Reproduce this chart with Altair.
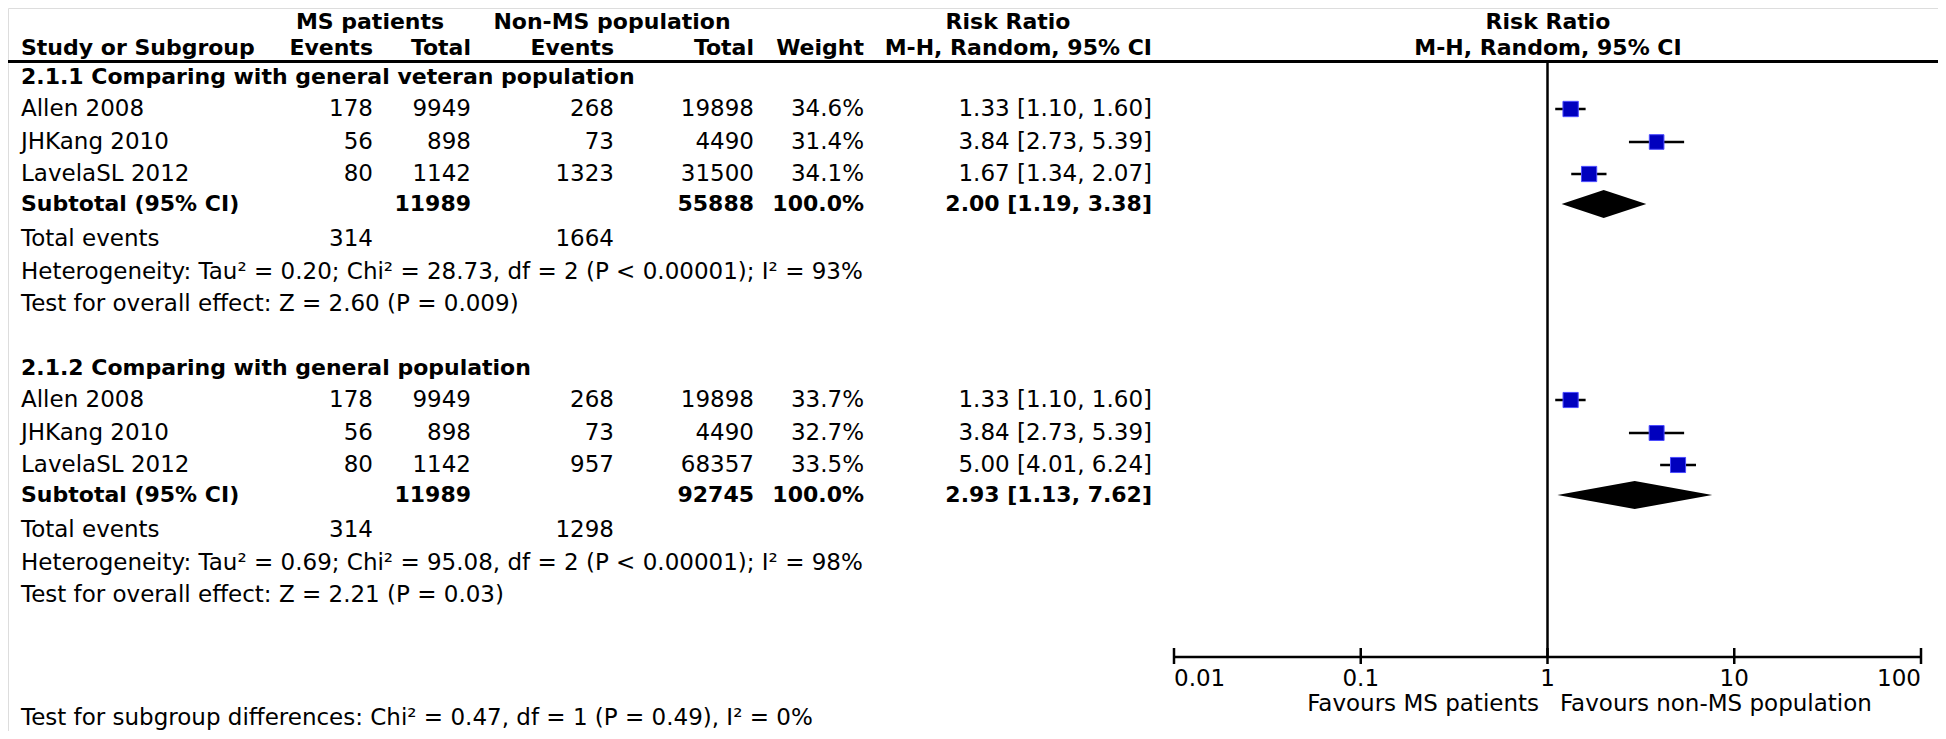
import altair as alt
import pandas as pd

# ---------------- data ----------------
studies = ["Allen 2008", "JHKang 2010", "LavelaSL 2012"]
ms_events = [178, 56, 80]
ms_total = [9949, 898, 1142]

g1_name = "2.1.1 Comparing with general veteran population"
g1_non_events = [268, 73, 1323]
g1_non_total = [19898, 4490, 31500]
g1_weight = [34.6, 31.4, 34.1]
g1_rr = [1.33, 3.84, 1.67]
g1_lo = [1.10, 2.73, 1.34]
g1_hi = [1.60, 5.39, 2.07]
g1_sub = [11989, 55888, 100.0, 2.00, 1.19, 3.38]   # ms total, non total, weight, rr, lo, hi
g1_total_events = [314, 1664]
g1_het = "Heterogeneity: Tau² = 0.20; Chi² = 28.73, df = 2 (P < 0.00001); I² = 93%"
g1_test = "Test for overall effect: Z = 2.60 (P = 0.009)"

g2_name = "2.1.2 Comparing with general population"
g2_non_events = [268, 73, 957]
g2_non_total = [19898, 4490, 68357]
g2_weight = [33.7, 32.7, 33.5]
g2_rr = [1.33, 3.84, 5.00]
g2_lo = [1.10, 2.73, 4.01]
g2_hi = [1.60, 5.39, 6.24]
g2_sub = [11989, 92745, 100.0, 2.93, 1.13, 7.62]
g2_total_events = [314, 1298]
g2_het = "Heterogeneity: Tau² = 0.69; Chi² = 95.08, df = 2 (P < 0.00001); I² = 98%"
g2_test = "Test for overall effect: Z = 2.21 (P = 0.03)"

subgroup_test = "Test for subgroup differences: Chi² = 0.47, df = 1 (P = 0.49), I² = 0%"
axis_ticks = [0.01, 0.1, 1, 10, 100]
favours_left = "Favours MS patients"
favours_right = "Favours non-MS population"

header_top = [("MS patients", "ms"), ("Non-MS population", "non"), ("Risk Ratio", "rrtab"), ("Risk Ratio", "plot")]
header_cols = ["Study or Subgroup", "Events", "Total", "Events", "Total", "Weight", "M-H, Random, 95% CI"]
plot_header2 = "M-H, Random, 95% CI"

# ---------------- layout ----------------
W, H = 1930, 723
FONT = "DejaVu Sans"
FS = 23          # regular text
FSB = 22         # bold text
COL_LABEL = 13
COLS = ["ms_ev", "ms_tot", "non_ev", "non_tot", "weight", "rr_txt"]
COL_X = {"ms_ev": 365, "ms_tot": 463, "non_ev": 606, "non_tot": 746, "weight": 856, "rr_txt": 1144}
TOP_X = {"ms": 362, "non": 604, "rrtab": 1000, "plot": 1540}
HDR1_Y, HDR2_Y, HLINE_Y = 14, 40, 53.5
BLOCK_OFFSET = [0, 291]
ROW_TITLE, ROW_STUDY, ROW_SUB, ROW_TOT, ROW_HET, ROW_TEST = 69, [101, 134, 166], 196, 231, 264, 296
SUBGROUP_Y = 710
AXIS_Y = 649
LABEL_Y = 671
FAV_Y = 696
DIAMOND_HALF = 14

yscale = alt.Scale(domain=[0, H], range=[0, H], nice=False, zero=False)
xscale = alt.Scale(type="log", domain=[0.01, 100], range=[1166, 1913], nice=False)

groups = [
    dict(name=g1_name, ne=g1_non_events, nt=g1_non_total, w=g1_weight, rr=g1_rr, lo=g1_lo, hi=g1_hi,
         sub=g1_sub, tot=g1_total_events, het=g1_het, test=g1_test),
    dict(name=g2_name, ne=g2_non_events, nt=g2_non_total, w=g2_weight, rr=g2_rr, lo=g2_lo, hi=g2_hi,
         sub=g2_sub, tot=g2_total_events, het=g2_het, test=g2_test),
]


def rr_text(r, l, h):
    return f"{r:.2f} [{l:.2f}, {h:.2f}]"


rows = []
rows.append(dict(y=HDR2_Y, bold=True, label=header_cols[0], ms_ev=header_cols[1], ms_tot=header_cols[2],
                 non_ev=header_cols[3], non_tot=header_cols[4], weight=header_cols[5], rr_txt=header_cols[6]))
forest = []
diamonds = []
for gi, g in enumerate(groups):
    off = BLOCK_OFFSET[gi]
    rows.append(dict(y=ROW_TITLE + off, bold=True, label=g["name"]))
    for i, s in enumerate(studies):
        yy = ROW_STUDY[i] + off
        rows.append(dict(y=yy, bold=False, label=s, ms_ev=str(ms_events[i]), ms_tot=str(ms_total[i]),
                         non_ev=str(g["ne"][i]), non_tot=str(g["nt"][i]), weight=f"{g['w'][i]:.1f}%",
                         rr_txt=rr_text(g["rr"][i], g["lo"][i], g["hi"][i])))
        forest.append(dict(y=yy, rr=g["rr"][i], lo=g["lo"][i], hi=g["hi"][i], weight=g["w"][i]))
    st = g["sub"]
    ys = ROW_SUB + off
    rows.append(dict(y=ys, bold=True, label="Subtotal (95% CI)", ms_tot=str(st[0]), non_tot=str(st[1]),
                     weight=f"{st[2]:.1f}%", rr_txt=rr_text(st[3], st[4], st[5])))
    diamonds += [
        dict(g=gi, x=st[4], y1=ys, y2=ys),
        dict(g=gi, x=st[3], y1=ys - DIAMOND_HALF, y2=ys + DIAMOND_HALF),
        dict(g=gi, x=st[5], y1=ys, y2=ys),
    ]
    rows.append(dict(y=ROW_TOT + off, bold=False, label="Total events", ms_ev=str(g["tot"][0]), non_ev=str(g["tot"][1])))
    rows.append(dict(y=ROW_HET + off, bold=False, label=g["het"]))
    rows.append(dict(y=ROW_TEST + off, bold=False, label=g["test"]))
rows.append(dict(y=SUBGROUP_Y, bold=False, label=subgroup_test))

table = pd.DataFrame(rows).fillna("")
forest_df = pd.DataFrame(forest)
diamond_df = pd.DataFrame(diamonds)
ticks_df = pd.DataFrame({"t": axis_ticks})
axis_df = pd.DataFrame({"lo": [min(axis_ticks)], "hi": [max(axis_ticks)]})

Y = alt.Y("y:Q", scale=yscale, axis=None)

layers = []

# table text
for col in ["label"] + COLS:
    for b in [False, True]:
        align = "left" if col == "label" else "right"
        xpos = COL_LABEL if col == "label" else COL_X[col]
        layers.append(
            alt.Chart(table).transform_filter(alt.datum.bold == b)
            .mark_text(align=align, baseline="middle", font=FONT, fontSize=FSB if b else FS,
                       fontWeight="bold" if b else "normal", color="black")
            .encode(x=alt.value(xpos), y=Y, text=alt.Text(f"{col}:N"))
        )

# top header row (bold, centred)
top_df = pd.DataFrame({"text": [h[0] for h in header_top], "key": [h[1] for h in header_top]})
for txt, key in header_top:
    layers.append(
        alt.Chart(top_df).transform_filter(alt.datum.key == key)
        .mark_text(align="center", baseline="middle", font=FONT, fontSize=FSB, fontWeight="bold", color="black")
        .encode(x=alt.value(TOP_X[key]), y=alt.value(HDR1_Y), text="text:N")
    )
plot_h2_df = pd.DataFrame({"text": [plot_header2]})
layers.append(
    alt.Chart(plot_h2_df).mark_text(align="center", baseline="middle", font=FONT, fontSize=FSB,
                                    fontWeight="bold", color="black")
    .encode(x=alt.value(TOP_X["plot"]), y=alt.value(HDR2_Y), text="text:N")
)

# header line
layers.append(
    alt.Chart(plot_h2_df).mark_rule(color="black", strokeWidth=3)
    .encode(x=alt.value(0), x2=alt.value(W), y=alt.value(HLINE_Y))
)

# line of no effect
layers.append(
    alt.Chart(ticks_df).transform_filter(alt.datum.t == 1).mark_rule(color="black", strokeWidth=2.5)
    .encode(x=alt.X("t:Q", scale=xscale, axis=None), y=alt.value(HLINE_Y + 1.5), y2=alt.value(AXIS_Y))
)

# axis line
layers.append(
    alt.Chart(axis_df).mark_rule(color="black", strokeWidth=2.5)
    .encode(x=alt.X("lo:Q", scale=xscale, axis=None), x2="hi:Q", y=alt.value(AXIS_Y))
)

# axis tick marks crossing the axis line
layers.append(
    alt.Chart(ticks_df).mark_rule(color="black", strokeWidth=2.5)
    .encode(x=alt.X("t:Q", scale=xscale, axis=None), y=alt.value(AXIS_Y - 9), y2=alt.value(AXIS_Y + 7))
)

# tick labels: first flush left, last flush right, others centred
lab_specs = [
    ("left", alt.datum.t == min(axis_ticks)),
    ("right", alt.datum.t == max(axis_ticks)),
    ("center", (alt.datum.t > min(axis_ticks)) & (alt.datum.t < max(axis_ticks))),
]
for al, cond in lab_specs:
    layers.append(
        alt.Chart(ticks_df).transform_filter(cond)
        .mark_text(align=al, baseline="middle", font=FONT, fontSize=FS, color="black")
        .encode(x=alt.X("t:Q", scale=xscale, axis=None), y=alt.value(LABEL_Y),
                text=alt.Text("t:Q", format="~g"))
    )

# CI lines
layers.append(
    alt.Chart(forest_df).mark_rule(color="black", strokeWidth=2.5)
    .encode(x=alt.X("lo:Q", scale=xscale, axis=None), x2="hi:Q", y=Y)
)

# study squares
layers.append(
    alt.Chart(forest_df).mark_square(filled=True, color="#0000BE", stroke="#4B4BFF", strokeWidth=1, opacity=1)
    .encode(x=alt.X("rr:Q", scale=xscale, axis=None), y=Y,
            size=alt.Size("weight:Q", scale=alt.Scale(domain=[0, 100], range=[0, 680]), legend=None))
)

# subtotal diamonds
layers.append(
    alt.Chart(diamond_df).mark_area(orient="vertical", color="black", opacity=1)
    .encode(x=alt.X("x:Q", scale=xscale, axis=None), y=alt.Y("y1:Q", scale=yscale, axis=None),
            y2="y2:Q", detail="g:N")
)

# favours labels
fav_df = pd.DataFrame({"text": [favours_left, favours_right], "side": ["l", "r"]})
layers.append(
    alt.Chart(fav_df).transform_filter(alt.datum.side == "l")
    .mark_text(align="right", baseline="middle", font=FONT, fontSize=FS, color="black")
    .encode(x=alt.value(1531), y=alt.value(FAV_Y), text="text:N")
)
layers.append(
    alt.Chart(fav_df).transform_filter(alt.datum.side == "r")
    .mark_text(align="left", baseline="middle", font=FONT, fontSize=FS, color="black")
    .encode(x=alt.value(1552), y=alt.value(FAV_Y), text="text:N")
)

chart = alt.layer(*layers).properties(
    width=W, height=H, autosize=alt.AutoSizeParams(type="none"), padding=0
).configure_view(strokeOpacity=0).configure(background="white")

chart.save("out.html", embed_options={"renderer": "svg", "actions": False})
